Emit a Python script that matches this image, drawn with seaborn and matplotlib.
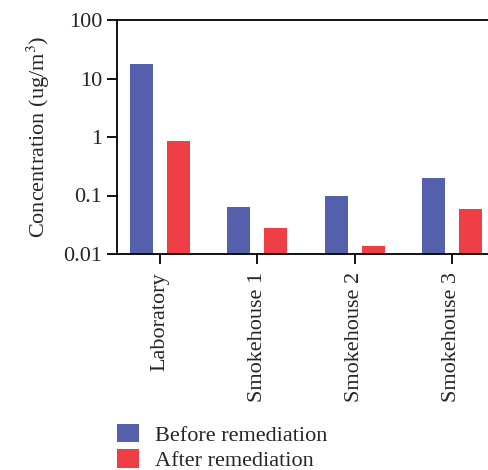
import matplotlib
matplotlib.use('Agg')
import matplotlib.pyplot as plt
import seaborn as sns
import pandas as pd
from matplotlib.patches import Patch

sites = ["Laboratory", "Smokehouse 1", "Smokehouse 2", "Smokehouse 3"]
before = [17.7, 0.063, 0.097, 0.20]
after = [0.86, 0.028, 0.0135, 0.058]
series = ["Before remediation", "After remediation"]
colors = ["#5560ad", "#ef3e45"]
yticks = [0.01, 0.1, 1, 10, 100]
yticklabels = ["0.01", "0.1", "1", "10", "100"]

sns.set_theme(style="ticks")
plt.rcParams['font.family'] = ['Liberation Serif', 'DejaVu Serif']
plt.rcParams['mathtext.fontset'] = 'stix'

df = pd.DataFrame({
    "Site": sites * 2,
    "Concentration": before + after,
    "Series": [series[0]] * len(sites) + [series[1]] * len(sites),
})

fig = plt.figure(figsize=(4.89, 4.70), dpi=100)
ax = fig.add_axes([117 / 489, 1 - 254 / 470, (488 - 117) / 489, (254 - 20) / 470])
sns.barplot(data=df, x="Site", y="Concentration", hue="Series", palette=colors,
            width=0.76, gap=0.38, ax=ax, legend=False,
            linewidth=0, saturation=1)
ax.set_yscale('log')
ax.set_ylim(0.01, 100)
ax.set_xlim(-0.44, 3.37)
ax.set_yticks(yticks)
ax.set_yticklabels(yticklabels)
ax.yaxis.set_minor_locator(matplotlib.ticker.NullLocator())
ax.set_xlabel("")
ax.set_ylabel("Concentration (ug/m$^3$)", fontsize=16, labelpad=8)
ax.tick_params(axis='both', labelsize=16, length=7, width=1.3, color='black', direction='out')
ax.tick_params(axis='x', rotation=90, pad=6)
for s in ['left', 'bottom', 'top']:
    ax.spines[s].set_visible(True)
    ax.spines[s].set_linewidth(1.3)
    ax.spines[s].set_color('black')
ax.spines['right'].set_visible(False)

handles = [Patch(facecolor=c, edgecolor='none', label=s) for c, s in zip(colors, series)]
fig.legend(handles=handles, loc='upper left', bbox_to_anchor=(108 / 489, 1 - 415 / 470),
           frameon=False, fontsize=16, handlelength=1.0, handleheight=0.9,
           handletextpad=0.7, labelspacing=0.15, borderaxespad=0)

fig.savefig("out.png", dpi=100)
